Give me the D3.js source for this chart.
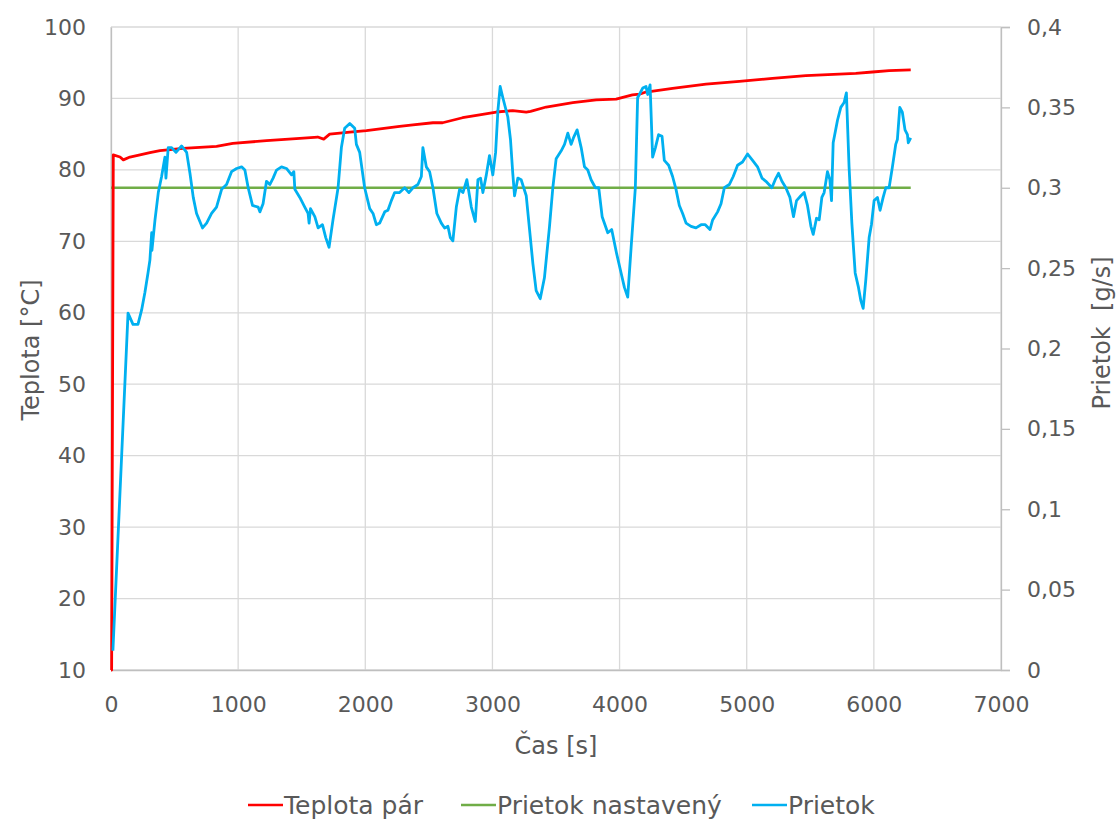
<!DOCTYPE html>
<html><head><meta charset="utf-8">
<script src="https://cdn.jsdelivr.net/npm/d3@7"></script>
<style>
html,body{margin:0;padding:0;background:#fff;}
svg text{font-family:"DejaVu Sans",sans-serif;fill:#595959;}
</style></head>
<body>
<svg id="chart" width="1116" height="820"></svg>
<script>
// ---- data ----
const xTicks = [0,1000,2000,3000,4000,5000,6000,7000];
const leftTicks = [10,20,30,40,50,60,70,80,90,100];
const rightTicks = [0,0.05,0.1,0.15,0.2,0.25,0.3,0.35,0.4];
const rightTickLabels = ["0","0,05","0,1","0,15","0,2","0,25","0,3","0,35","0,4"];
const seriesNames = ["Teplota pár","Prietok nastavený","Prietok"];
const seriesColors = ["#ff0000","#70ad47","#00b0f0"];

// Teplota pár [°C]
const tempTime = [0,5,18,71,97,149,228,306,385,566,830,958,1223,1485,1626,1673,1720,1878,2009,2270,2375,2532,2608,2765,2899,3030,3160,3266,3300,3423,3632,3816,3973,4101,4156,4208,4417,4680,4942,5203,5465,5727,5858,5989,6120,6290];
const tempVal  = [10,10,82.1,81.8,81.4,81.8,82.1,82.4,82.7,83.0,83.3,83.7,84.1,84.4,84.6,84.3,85.0,85.3,85.5,86.1,86.3,86.6,86.6,87.3,87.7,88.1,88.3,88.1,88.2,88.8,89.4,89.8,89.9,90.5,90.6,90.9,91.4,92.0,92.4,92.8,93.2,93.4,93.5,93.7,93.9,94.0];

// Prietok nastavený [g/s]
const setTime = [0,6290];
const setVal  = [0.3,0.3];

// Prietok [g/s]
const flowTime = [15,134,173,212,241,267,291,306,320,322,346,372,398,424,432,450,477,511,555,595,621,647,673,699,720,752,791,830,870,909,948,988,1027,1053,1079,1113,1157,1171,1196,1223,1249,1275,1302,1341,1380,1420,1438,1446,1485,1524,1550,1558,1569,1603,1629,1663,1689,1715,1746,1786,1812,1838,1878,1917,1930,1956,1995,2035,2061,2087,2113,2153,2178,2205,2231,2270,2310,2343,2375,2414,2441,2453,2480,2506,2532,2563,2598,2624,2650,2669,2689,2716,2742,2768,2799,2834,2865,2886,2907,2925,2952,2977,3003,3025,3043,3061,3082,3121,3142,3160,3174,3200,3226,3266,3292,3318,3344,3376,3409,3449,3475,3501,3541,3567,3593,3619,3637,3666,3698,3724,3750,3776,3810,3836,3863,3907,3938,3977,4012,4038,4064,4091,4124,4142,4182,4208,4221,4240,4260,4282,4307,4334,4352,4386,4417,4444,4470,4496,4523,4562,4601,4641,4674,4711,4732,4771,4798,4824,4863,4894,4928,4967,5007,5046,5085,5120,5151,5198,5224,5250,5277,5308,5340,5368,5392,5426,5452,5478,5505,5523,5549,5570,5591,5609,5635,5654,5667,5680,5714,5740,5766,5784,5805,5827,5853,5879,5897,5916,5937,5963,5981,6002,6028,6049,6073,6094,6120,6146,6172,6185,6204,6224,6245,6264,6271,6290];
const flowVal  = [0.012,0.222,0.215,0.215,0.224,0.235,0.247,0.255,0.272,0.261,0.280,0.297,0.307,0.319,0.306,0.325,0.325,0.322,0.326,0.322,0.309,0.294,0.284,0.279,0.275,0.278,0.284,0.288,0.299,0.302,0.310,0.312,0.313,0.311,0.300,0.289,0.288,0.285,0.290,0.304,0.302,0.306,0.311,0.313,0.312,0.308,0.310,0.299,0.294,0.288,0.284,0.278,0.287,0.282,0.275,0.277,0.269,0.263,0.280,0.300,0.325,0.337,0.340,0.337,0.327,0.322,0.300,0.287,0.284,0.277,0.278,0.285,0.286,0.292,0.297,0.297,0.300,0.297,0.300,0.302,0.307,0.325,0.313,0.310,0.300,0.284,0.278,0.275,0.276,0.269,0.267,0.288,0.299,0.297,0.305,0.288,0.279,0.305,0.306,0.297,0.308,0.320,0.308,0.322,0.348,0.363,0.356,0.344,0.330,0.309,0.295,0.306,0.305,0.295,0.274,0.253,0.236,0.231,0.244,0.276,0.300,0.318,0.323,0.327,0.334,0.327,0.331,0.336,0.325,0.313,0.311,0.305,0.300,0.300,0.282,0.272,0.274,0.259,0.247,0.238,0.232,0.263,0.300,0.356,0.362,0.363,0.358,0.364,0.319,0.325,0.333,0.332,0.317,0.314,0.307,0.299,0.289,0.284,0.278,0.276,0.275,0.277,0.277,0.274,0.280,0.285,0.290,0.300,0.302,0.307,0.314,0.316,0.321,0.317,0.313,0.306,0.304,0.300,0.305,0.309,0.304,0.300,0.294,0.282,0.292,0.295,0.297,0.289,0.276,0.271,0.281,0.280,0.294,0.297,0.310,0.305,0.292,0.328,0.342,0.350,0.353,0.359,0.313,0.278,0.247,0.238,0.230,0.225,0.243,0.269,0.277,0.292,0.294,0.286,0.294,0.300,0.300,0.313,0.327,0.330,0.350,0.347,0.336,0.333,0.328,0.331];

// ---- layout ----
const svg = d3.select("#chart");
const M = {left:111, right:1001, top:27, bottom:670};
const x = d3.scaleLinear().domain([0,7000]).range([M.left, M.right]);
const yL = d3.scaleLinear().domain([10,100]).range([M.bottom, M.top]);
const yR = d3.scaleLinear().domain([0,0.4]).range([M.bottom, M.top]);
const grid = "#d9d9d9";

// gridlines
svg.append("g").selectAll("line").data(leftTicks).join("line")
  .attr("x1", M.left).attr("x2", M.right)
  .attr("y1", d=>yL(d)).attr("y2", d=>yL(d))
  .attr("stroke", grid).attr("stroke-width",1.3);
svg.append("g").selectAll("line").data(xTicks).join("line")
  .attr("x1", d=>x(d)).attr("x2", d=>x(d))
  .attr("y1", M.top).attr("y2", M.bottom)
  .attr("stroke", grid).attr("stroke-width",1.3);

// axes
const axX = svg.append("g").attr("transform",`translate(0,${M.bottom})`)
  .call(d3.axisBottom(x).tickValues(xTicks).tickSize(0).tickPadding(26).tickFormat(d3.format("d")));
const axL = svg.append("g").attr("transform",`translate(${M.left},0)`)
  .call(d3.axisLeft(yL).tickValues(leftTicks).tickSize(0).tickPadding(25));
const axR = svg.append("g").attr("transform",`translate(${M.right},0)`)
  .call(d3.axisRight(yR).tickValues(rightTicks).tickSize(9).tickPadding(17)
    .tickFormat((d,i)=>rightTickLabels[i]));
[axX,axL,axR].forEach(a=>{
  a.select(".domain").attr("stroke","#bfbfbf").attr("stroke-width",1.3);
  a.selectAll(".tick line").attr("stroke","#bfbfbf").attr("stroke-width",1.3);
  a.selectAll("text").attr("font-size",22).attr("font-family","DejaVu Sans").attr("fill","#595959");
});

// lines
const lineL = d3.line().x(d=>x(d[0])).y(d=>yL(d[1]));
const lineR = d3.line().x(d=>x(d[0])).y(d=>yR(d[1]));
svg.append("path").datum(setTime.map((t,i)=>[t,setVal[i]]))
  .attr("d", lineR).attr("fill","none").attr("stroke",seriesColors[1]).attr("stroke-width",2.6);
svg.append("path").datum(tempTime.map((t,i)=>[t,tempVal[i]]))
  .attr("d", lineL).attr("fill","none").attr("stroke",seriesColors[0]).attr("stroke-width",2.8).attr("stroke-linejoin","round");
svg.append("path").datum(flowTime.map((t,i)=>[t,flowVal[i]]))
  .attr("d", lineR).attr("fill","none").attr("stroke",seriesColors[2]).attr("stroke-width",2.8).attr("stroke-linejoin","round");

// axis titles
svg.append("text").attr("x",(M.left+M.right)/2).attr("y",754).attr("text-anchor","middle")
  .attr("font-size",24).text("Čas [s]");
svg.append("text").attr("transform","translate(39,350) rotate(-90)").attr("text-anchor","middle")
  .attr("font-size",24).text("Teplota [°C]");
svg.append("text").attr("transform","translate(1110,333) rotate(-90)").attr("text-anchor","middle")
  .attr("font-size",24).text("Prietok  [g/s]").style("white-space","pre");

// legend
const legX = [248,461,752];
const lg = svg.append("g").selectAll("g").data(seriesNames).join("g")
  .attr("transform",(d,i)=>`translate(${legX[i]},805)`);
lg.append("line").attr("x1",0).attr("x2",35).attr("y1",0).attr("y2",0)
  .attr("stroke",(d,i)=>seriesColors[i]).attr("stroke-width",2.6);
lg.append("text").attr("x",36).attr("y",9).attr("font-size",25).text(d=>d);
</script>
</body></html>
